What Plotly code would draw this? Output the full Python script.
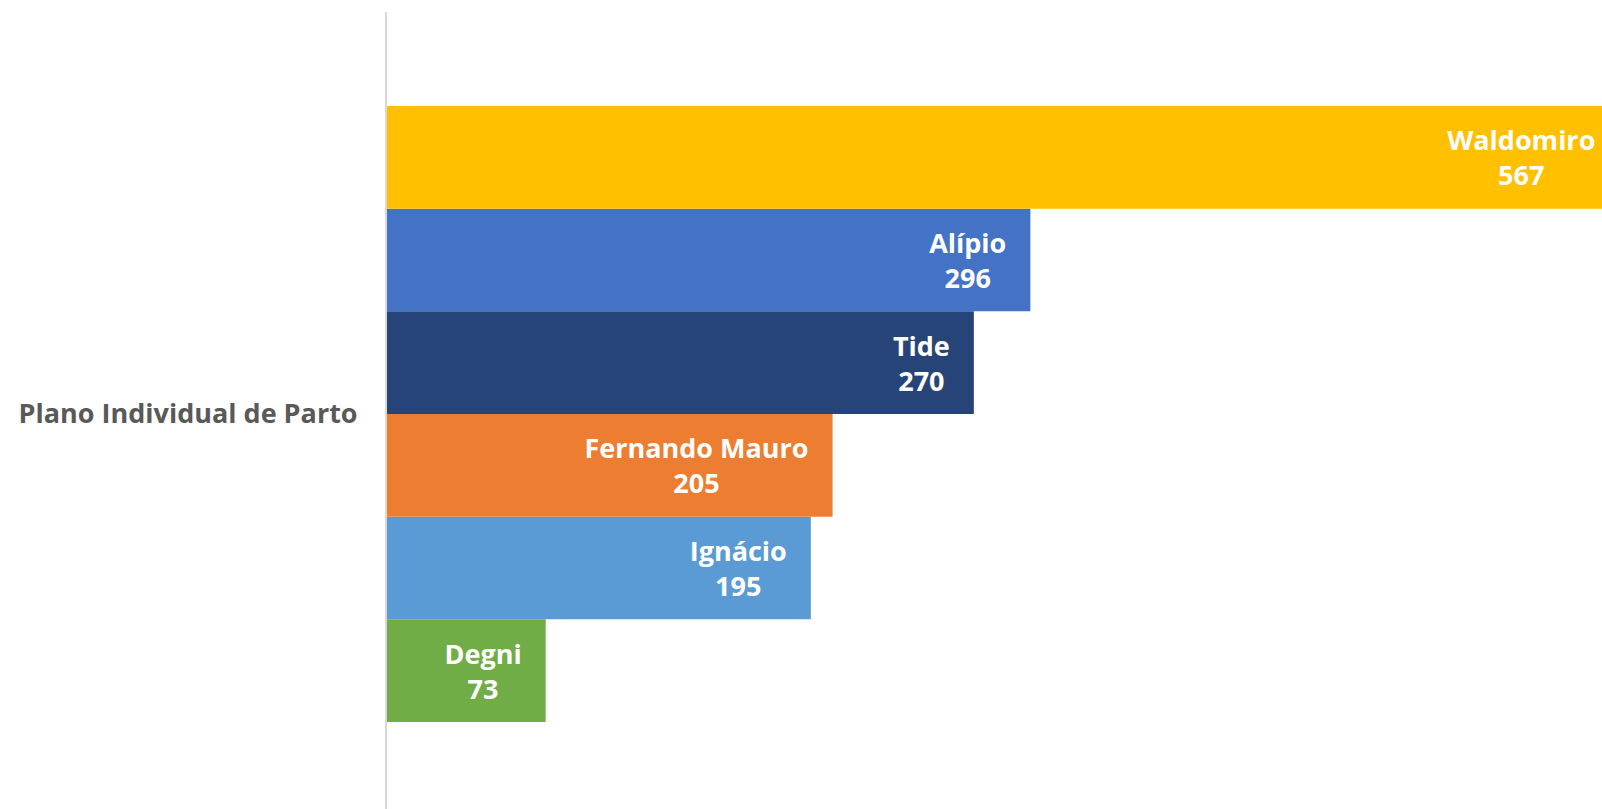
import plotly.graph_objects as go

category = ["Plano Individual de Parto"]
names = ["Waldomiro", "Alípio", "Tide", "Fernando Mauro", "Ignácio", "Degni"]
values = [567, 296, 270, 205, 195, 73]
colors = ["#FFC000", "#4472C4", "#264478", "#ED7D31", "#5B9BD5", "#70AD47"]

pad = "\u00a0" * 3  # keeps the labels off the bar end, like Excel does

fig = go.Figure()

# plotly puts the first trace of a group at the bottom, so add them reversed
for name, val, col in reversed(list(zip(names, values, colors))):
    fig.add_trace(go.Bar(
        y=category,
        x=[val],
        orientation="h",
        name=name,
        marker=dict(color=col, line=dict(width=0)),
        text=[f"<b>{name}{pad}</b><br><b>{val}{pad}</b>"],
        textposition="inside",
        insidetextanchor="end",
        textangle=0,
        textfont=dict(family="Open Sans", size=27, color="white"),
        hoverinfo="skip",
    ))

fig.update_layout(
    barmode="group",
    bargap=0.234,
    bargroupgap=0,
    width=1602,
    height=809,
    margin=dict(l=387, r=0, t=12, b=0),
    plot_bgcolor="white",
    paper_bgcolor="white",
    showlegend=False,
    xaxis=dict(
        range=[0, 559],  # the top bar runs past the right edge in the original
        visible=False,
        showgrid=False,
        zeroline=False,
    ),
    yaxis=dict(
        range=[-0.4913, 0.5],
        showline=True,
        linecolor="#D9D9D9",
        linewidth=2,
        showgrid=False,
        zeroline=False,
        ticks="",
        ticklabelstandoff=22,
        tickfont=dict(family="Open Sans", size=27, color="#595959", weight="bold"),
    ),
)

# drop the default 8px body margin so the figure sits at the window corner
fig.write_html(
    "out.html",
    config={"displayModeBar": False},
    post_script="document.body.style.margin='0';document.body.style.overflow='hidden';",
)
